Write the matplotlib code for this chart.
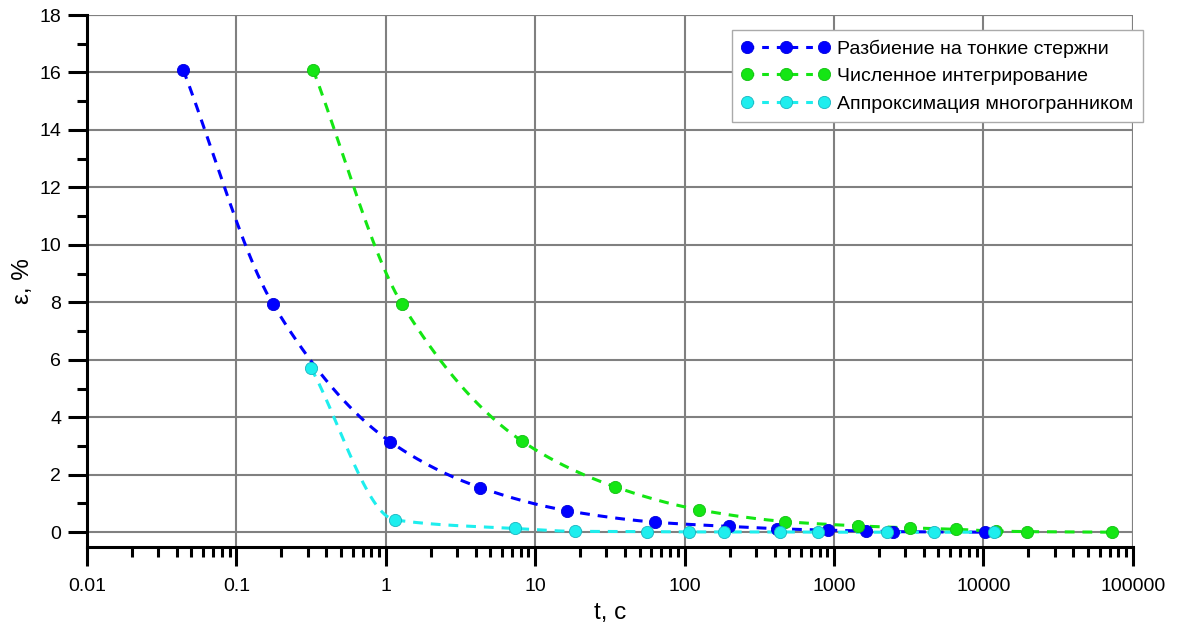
import numpy as np
import matplotlib
matplotlib.use("Agg")
import matplotlib.pyplot as plt
from matplotlib.ticker import LogLocator, NullFormatter, MultipleLocator

plt.rcParams['font.family'] = ['Liberation Sans', 'DejaVu Sans']

# -- data
t_rods = [0.044, 0.176, 1.07, 4.3, 16.3, 63, 198, 415, 912, 1640, 2480, 10250]
e_rods = [16.1, 7.93, 3.15, 1.55, 0.75, 0.35, 0.2, 0.12, 0.07, 0.04, 0.02, 0.0]

t_int = [0.326, 1.28, 8.16, 34.2, 125, 470, 1450, 3230, 6560, 12100, 19600, 72600]
e_int = [16.1, 7.95, 3.17, 1.58, 0.78, 0.37, 0.22, 0.15, 0.1, 0.04, 0.02, 0.0]

t_poly = [0.315, 1.15, 7.3, 18.5, 56, 107, 184, 435, 781, 2260, 4670, 11780]
e_poly = [5.72, 0.43, 0.13, 0.03, 0.02, 0.01, 0.01, 0.01, 0.0, 0.0, 0.0, 0.0]

labels = ["Разбиение на тонкие стержни",
          "Численное интегрирование",
          "Аппроксимация многогранником"]
xticks = [0.01, 0.1, 1, 10, 100, 1000, 10000, 100000]
xticklabels = ["0.01", "0.1", "1", "10", "100", "1000", "10000", "100000"]
colors = ["#0000FF", "#14E614", "#1EEEEE"]
edges = ["#0000DD", "#12C012", "#19B5C0"]


def pchip_line(x, y, n=40):
    # monotone cubic through the points, in log10(x), just for the drawn line
    lx = np.log10(np.asarray(x, float))
    y = np.asarray(y, float)
    h = np.diff(lx)
    d = np.diff(y) / h
    m = np.zeros_like(y)
    m[0], m[-1] = d[0], d[-1]
    for k in range(1, len(y) - 1):
        if d[k - 1] * d[k] > 0:
            w1 = 2 * h[k] + h[k - 1]
            w2 = h[k] + 2 * h[k - 1]
            m[k] = (w1 + w2) / (w1 / d[k - 1] + w2 / d[k])
    xs, ys = [], []
    for k in range(len(h)):
        s = np.linspace(0, 1, n, endpoint=(k == len(h) - 1))
        h00 = 2 * s**3 - 3 * s**2 + 1
        h10 = s**3 - 2 * s**2 + s
        h01 = -2 * s**3 + 3 * s**2
        h11 = s**3 - s**2
        xs.append(lx[k] + s * h[k])
        ys.append(h00 * y[k] + h10 * h[k] * m[k] + h01 * y[k + 1] + h11 * h[k] * m[k + 1])
    return 10 ** np.concatenate(xs), np.concatenate(ys)


fig = plt.figure(figsize=(11.79, 6.26), dpi=100)
ax = fig.add_axes([0.0738, 0.126, 0.887, 0.85])

series = [(t_rods, e_rods), (t_int, e_int), (t_poly, e_poly)]
handles = []
for (tx, ey), lab, c, ec in zip(series, labels, colors, edges):
    sx, sy = pchip_line(tx, ey)
    ax.plot(sx, sy, color=c, lw=2.2, ls=(0, (3.2, 2.6)), zorder=3)
    ax.plot(tx, ey, 'o', color=c, mec=ec, mew=0.6, ms=8.8, zorder=4)
    h, = ax.plot([], [], color=c, lw=2.2, ls=(0, (2.2, 2.6)), marker='o',
                 ms=8.8, mec=ec, mew=0.6, label=lab)
    handles.append(h)

ax.set_xscale('log')
ax.set_xlim(0.01, 100000)
ax.set_ylim(-0.52, 18)

ax.set_xticks(xticks)
ax.set_xticklabels(xticklabels)
ax.xaxis.set_minor_locator(LogLocator(base=10, subs=np.arange(2, 10), numticks=20))
ax.xaxis.set_minor_formatter(NullFormatter())
ax.yaxis.set_major_locator(MultipleLocator(2))
ax.yaxis.set_minor_locator(MultipleLocator(1))

ax.grid(True, which='major', color='#808080', lw=1.5)
ax.set_axisbelow(True)
ax.spines['top'].set_visible(False)
ax.spines['right'].set_visible(False)
ax.spines['left'].set_linewidth(2.2)
ax.spines['bottom'].set_linewidth(2.2)
ax.tick_params(which='major', direction='out', length=13.5, width=2.2, labelsize=14, pad=5)
ax.tick_params(axis='x', which='major', pad=8.5)
ax.tick_params(which='minor', direction='out', length=7, width=2.2)

# top/right border line at the grid extents
ax.axhline(18, color='#808080', lw=1.5, zorder=1)
ax.axvline(100000, color='#808080', lw=1.5, zorder=1)

ax.set_xlabel("t, c", fontsize=17.5, labelpad=5)
ax.set_ylabel("ε, %", fontsize=17.5, labelpad=4)

leg = ax.legend(handles=handles, loc='upper right', bbox_to_anchor=(1.0096, 0.972),
                fontsize=14, numpoints=3, handlelength=4.55, handletextpad=0.35,
                borderpad=0.5, labelspacing=0.5, fancybox=False, framealpha=1,
                edgecolor='#aaaaaa', borderaxespad=0)
leg.get_frame().set_linewidth(1.0)

fig.savefig("out.png", dpi=100)
